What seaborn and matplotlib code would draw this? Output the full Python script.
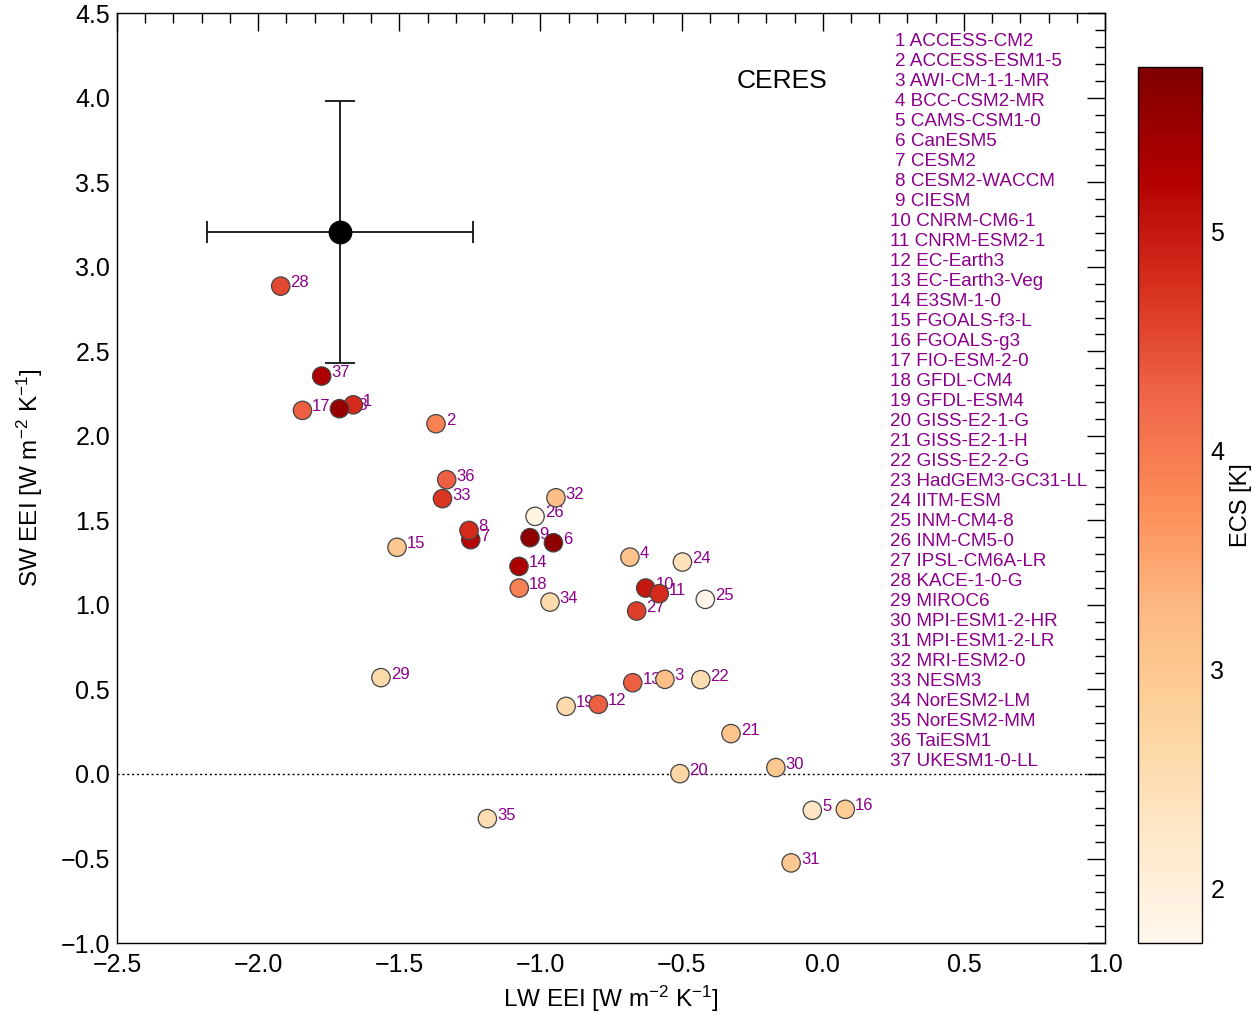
import numpy as np
import pandas as pd
import matplotlib
matplotlib.use("Agg")
import matplotlib.pyplot as plt
import matplotlib.colors as mcolors
import matplotlib.cm as cm
from matplotlib.ticker import MultipleLocator, FuncFormatter
import seaborn as sns

# --- model names (CMIP6) ---
models = [
    "ACCESS-CM2", "ACCESS-ESM1-5", "AWI-CM-1-1-MR", "BCC-CSM2-MR", "CAMS-CSM1-0",
    "CanESM5", "CESM2", "CESM2-WACCM", "CIESM", "CNRM-CM6-1", "CNRM-ESM2-1",
    "EC-Earth3", "EC-Earth3-Veg", "E3SM-1-0", "FGOALS-f3-L", "FGOALS-g3",
    "FIO-ESM-2-0", "GFDL-CM4", "GFDL-ESM4", "GISS-E2-1-G", "GISS-E2-1-H",
    "GISS-E2-2-G", "HadGEM3-GC31-LL", "IITM-ESM", "INM-CM4-8", "INM-CM5-0",
    "IPSL-CM6A-LR", "KACE-1-0-G", "MIROC6", "MPI-ESM1-2-HR", "MPI-ESM1-2-LR",
    "MRI-ESM2-0", "NESM3", "NorESM2-LM", "NorESM2-MM", "TaiESM1", "UKESM1-0-LL",
]

# LW EEI [W m-2 K-1]
lw_eei = [
    -1.663, -1.370, -0.559, -0.683, -0.037, -0.954, -1.247, -1.253, -1.037, -0.627,
    -0.579, -0.795, -0.673, -1.076, -1.508, 0.080, -1.843, -1.075, -0.909, -0.506,
    -0.325, -0.432, -1.712, -0.497, -0.416, -1.019, -0.659, -1.920, -1.565, -0.166,
    -0.112, -0.945, -1.347, -0.966, -1.188, -1.332, -1.775,
]

# SW EEI [W m-2 K-1]
sw_eei = [
    2.184, 2.072, 0.560, 1.283, -0.215, 1.368, 1.386, 1.441, 1.398, 1.100,
    1.067, 0.412, 0.540, 1.228, 1.341, -0.209, 2.151, 1.100, 0.400, 0.002,
    0.239, 0.558, 2.161, 1.254, 1.033, 1.524, 0.964, 2.886, 0.570, 0.038,
    -0.526, 1.634, 1.629, 1.017, -0.264, 1.741, 2.354,
]

# Equilibrium climate sensitivity [K]
ecs = [
    4.8, 3.9, 3.2, 3.1, 2.3, 5.6, 5.2, 4.8, 5.6, 5.0,
    4.8, 4.3, 4.3, 5.3, 3.0, 2.9, 4.3, 3.9, 2.6, 2.7,
    3.1, 2.5, 5.5, 2.4, 1.8, 1.9, 4.6, 4.5, 2.6, 3.0,
    3.0, 3.2, 4.7, 2.6, 2.5, 4.3, 5.3,
]

# CERES observational estimate with uncertainty
ceres_lw, ceres_sw = -1.710, 3.208
ceres_lw_err, ceres_sw_err = 0.471, 0.774

ecs_min, ecs_max = 1.75, 5.75
ecs_ticks = [2, 3, 4, 5]

df = pd.DataFrame({
    "num": np.arange(1, len(models) + 1),
    "model": models,
    "lw": lw_eei,
    "sw": sw_eei,
    "ecs": ecs,
})

sns.set_style("white")
plt.rcParams["font.family"] = ["Liberation Sans", "DejaVu Sans"]
plt.rcParams["mathtext.fontset"] = "custom"
plt.rcParams["mathtext.rm"] = "Liberation Sans"
plt.rcParams["mathtext.it"] = "Liberation Sans:italic"
plt.rcParams["text.color"] = "black"
plt.rcParams["axes.labelcolor"] = "black"
plt.rcParams["xtick.color"] = "black"
plt.rcParams["ytick.color"] = "black"

label_color = "#8B008B"
cmap = plt.get_cmap("OrRd")
norm = mcolors.Normalize(vmin=ecs_min, vmax=ecs_max)


def fmt_tick(v, _pos):
    return f"{v:.1f}".replace("-", "\u2212")


fig = plt.figure(figsize=(12.54, 10.15), dpi=100)
ax = fig.add_axes([0.0933, 0.0709, 0.7879, 0.9160])
cax = fig.add_axes([0.9075, 0.0709, 0.0510, 0.8631])

# zero line
ax.axhline(0.0, color="black", lw=1.0, ls=(0, (1.5, 2)), zorder=1)

# model points coloured by ECS
sns.scatterplot(
    data=df, x="lw", y="sw", hue="ecs", palette="OrRd", hue_norm=norm,
    s=175, edgecolor="#444444", linewidth=0.9, legend=False, ax=ax, zorder=4,
)

# model numbers next to points
for _, row in df.iterrows():
    ax.annotate(str(row["num"]), (row["lw"], row["sw"]), xytext=(7.0, 2.5),
                textcoords="offset points", ha="left", va="center",
                fontsize=12, color=label_color, zorder=3)

# CERES estimate
ax.errorbar([ceres_lw], [ceres_sw], xerr=[ceres_lw_err], fmt="none",
            ecolor="black", elinewidth=1.2, capsize=8, capthick=1.2, zorder=5)
ax.errorbar([ceres_lw], [ceres_sw], yerr=[ceres_sw_err], fmt="none",
            ecolor="black", elinewidth=1.2, capsize=10.5, capthick=1.2, zorder=5)
ax.scatter([ceres_lw], [ceres_sw], s=260, color="black", zorder=6)

ax.text(0.6733, 0.9270, "CERES", transform=ax.transAxes, ha="center",
        va="center", fontsize=19, color="black")

# model list
for i, name in enumerate(models, start=1):
    xpos = 0.7874 if i < 10 else 0.7824
    ypos = 0.9700 - (i - 1) * 0.02151
    ax.text(xpos, ypos, f"{i} {name}", transform=ax.transAxes, ha="left",
            va="center", fontsize=13.6, color=label_color)

ax.set_xlim(-2.5, 1.0)
ax.set_ylim(-1.0, 4.5)
ax.xaxis.set_major_locator(MultipleLocator(0.5))
ax.xaxis.set_minor_locator(MultipleLocator(0.1))
ax.yaxis.set_major_locator(MultipleLocator(0.5))
ax.yaxis.set_minor_locator(MultipleLocator(0.1))
ax.xaxis.set_major_formatter(FuncFormatter(fmt_tick))
ax.yaxis.set_major_formatter(FuncFormatter(fmt_tick))
ax.tick_params(which="both", direction="in", top=True, right=True,
               color="black", width=1.0)
ax.tick_params(which="major", length=13, labelsize=18)
ax.tick_params(which="minor", length=7)
ax.tick_params(axis="y", which="major", pad=5)
ax.tick_params(axis="x", which="major", pad=7)
for sp in ax.spines.values():
    sp.set_color("black")
    sp.set_linewidth(1.0)

ax.set_xlabel("LW EEI [W m$^{-2}$ K$^{-1}$]", fontsize=17.5, labelpad=5)
ax.set_ylabel("SW EEI [W m$^{-2}$ K$^{-1}$]", fontsize=17.5, labelpad=11)

# colour bar
sm = cm.ScalarMappable(norm=norm, cmap=cmap)
cb = fig.colorbar(sm, cax=cax)
cb.set_ticks(ecs_ticks)
cb.ax.yaxis.set_minor_locator(MultipleLocator(0.5))
cb.ax.tick_params(which="both", direction="in", color="black", width=1.0,
                  left=False, right=True, labelsize=18, pad=6)
cb.ax.tick_params(which="major", length=13)
cb.ax.tick_params(which="minor", length=6.5)
cb.outline.set_edgecolor("black")
cb.outline.set_linewidth(1.0)
cb.set_label("ECS [K]", fontsize=17, labelpad=4)

fig.savefig("out.png", dpi=100)
